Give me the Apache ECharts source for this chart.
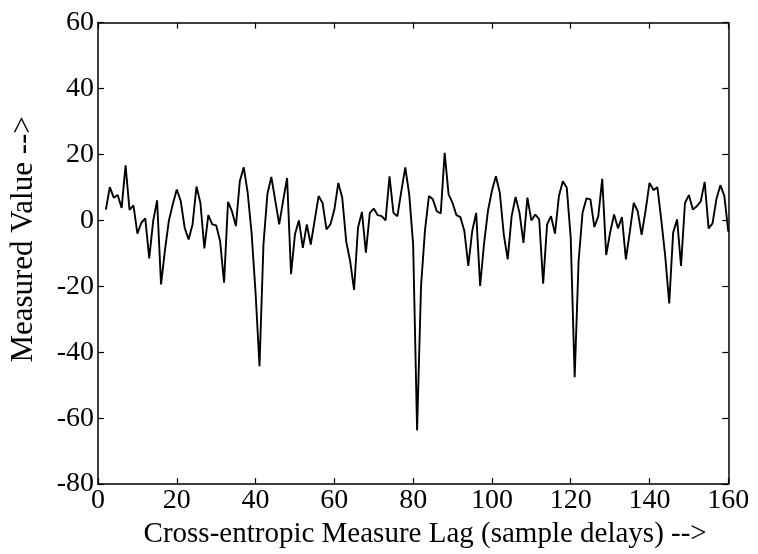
<!DOCTYPE html>
<html>
<head>
<meta charset="utf-8">
<script src="https://cdn.jsdelivr.net/npm/echarts@6/dist/echarts.min.js"></script>
<style>
html,body{margin:0;padding:0;background:#fff;}
#chart{width:758px;height:554px;}
</style>
</head>
<body>
<div id="chart"></div>
<script>
// lag (sample delays)
const lags = [
  2,3,4,5,6,7,8,9,10,11,12,13,14,15,16,17,18,19,20,
  21,22,23,24,25,26,27,28,29,30,31,32,33,34,35,36,37,38,39,40,
  41,42,43,44,45,46,47,48,49,50,51,52,53,54,55,56,57,58,59,60,
  61,62,63,64,65,66,67,68,69,70,71,72,73,74,75,76,77,78,79,80,
  81,82,83,84,85,86,87,88,89,90,91,92,93,94,95,96,97,98,99,100,
  101,102,103,104,105,106,107,108,109,110,111,112,113,114,115,116,117,118,119,120,
  121,122,123,124,125,126,127,128,129,130,131,132,133,134,135,136,137,138,139,140,
  141,142,143,144,145,146,147,148,149,150,151,152,153,154,155,156,157,158,159,160
];
// measured value
const measured = [
  3.3,10.1,6.9,7.7,3.8,16.7,3.2,4.6,-4.0,-0.7,0.6,-11.5,-0.2,6.1,-19.4,-9,0,5,9.4,
  5.9,-2.2,-5.8,-1.2,10.3,5.3,-8.5,1.6,-1.2,-1.5,-6.3,-18.9,5.6,2.8,-1.7,11.9,16.1,8.4,-4,-22,
  -44.2,-7.3,8,13.2,6,-1.2,6,12.9,-16.3,-4.2,0,-8.3,-1.2,-7.3,0,7.4,5.3,-2.7,-1.2,3.3,
  11.4,6.9,-6.3,-12.3,-21.1,-2.2,2.6,-9.8,2.3,3.6,1.6,1.3,0,13.4,2.3,1.3,8.9,16.1,7.9,-7.3,
  -63.7,-20,-3,7.4,6.4,2.8,2.1,20.5,7.9,5.3,1.6,1.0,-3.2,-13.8,-3.2,2.3,-19.9,-7,3,9,
  13.4,8.4,-4.2,-11.8,1.3,7.1,2.3,-6.8,6.9,0,1.8,0.3,-19.2,-1.2,1.3,-4.0,7.4,11.9,9.9,-5.3,
  -47.6,-12.3,2.3,6.7,6.4,-2.0,1.3,12.6,-10.5,-3.7,1.8,-2.4,1.0,-11.8,-3.5,5.3,2.8,-4.4,3,11.4,
  9.2,10.1,0,-11,-25.2,-3.7,0.3,-13.8,5.3,7.7,3.3,4.3,5.8,11.7,-2.4,-0.9,6.6,10.7,7.4,-3.4
];
const xTicks = [0, 20, 40, 60, 80, 100, 120, 140, 160];
const yTicks = [-80, -60, -40, -20, 0, 20, 40, 60];
const xTitle = 'Cross-entropic Measure Lag (sample delays) -->';
const yTitle = 'Measured Value -->';

const points = lags.map((l, i) => [l, measured[i]]);
const font = 'Liberation Serif, Times New Roman, serif';
const tickLen = 6;

const chart = echarts.init(document.getElementById('chart'), null, {renderer: 'canvas'});
const baseX = {
  type: 'value', min: xTicks[0], max: xTicks[xTicks.length - 1], interval: 20,
  axisLine: {show: true, onZero: false, lineStyle: {color: '#000', width: 1.5}},
  axisTick: {show: true, inside: true, length: tickLen, lineStyle: {color: '#000', width: 1.2}},
  splitLine: {show: false}
};
const baseY = {
  type: 'value', min: yTicks[0], max: yTicks[yTicks.length - 1], interval: 20,
  axisLine: {show: true, onZero: false, lineStyle: {color: '#000', width: 1.5}},
  axisTick: {show: true, inside: true, length: tickLen, lineStyle: {color: '#000', width: 1.2}},
  splitLine: {show: false}
};
chart.setOption({
  animation: false,
  backgroundColor: '#fff',
  grid: {left: 96.4, right: 29.7, top: 22.7, bottom: 68.6},
  xAxis: [
    Object.assign({}, baseX, {
      position: 'bottom',
      name: xTitle, nameLocation: 'middle', nameGap: 31,
      nameTextStyle: {fontFamily: font, fontSize: 29, color: '#000', padding: [0, 0, 0, 24]},
      axisLabel: {show: true, margin: 3, fontFamily: font, fontSize: 28, color: '#000'}
    }),
    Object.assign({}, baseX, {position: 'top', axisLabel: {show: false}})
  ],
  yAxis: [
    Object.assign({}, baseY, {
      position: 'left',
      name: yTitle, nameLocation: 'middle', nameGap: 59,
      nameTextStyle: {fontFamily: font, fontSize: 31, color: '#000', padding: [0, 0, 0, 28]},
      axisLabel: {show: true, margin: 4, fontFamily: font, fontSize: 28, color: '#000'}
    }),
    Object.assign({}, baseY, {position: 'right', axisLabel: {show: false}})
  ],
  series: [{
    type: 'line', data: points, xAxisIndex: 0, yAxisIndex: 0,
    showSymbol: false, symbol: 'none',
    lineStyle: {color: '#000', width: 1.9}
  }]
});
</script>
</body>
</html>
